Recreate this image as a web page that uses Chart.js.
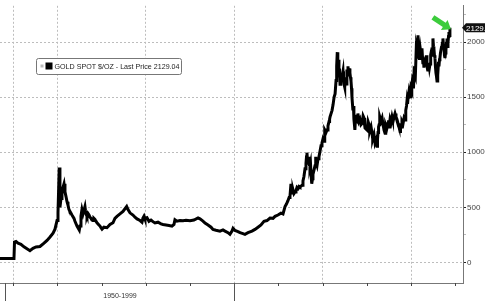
<!DOCTYPE html>
<html>
<head>
<meta charset="utf-8">
<script src="https://cdn.jsdelivr.net/npm/chart.js@4.4.1/dist/chart.umd.min.js"></script>
<style>
  html, body { margin: 0; padding: 0; background: #fff; }
  #wrap { width: 485px; height: 301px; }
</style>
</head>
<body>
<div id="wrap"><canvas id="myChart" width="485" height="301"></canvas></div>
<script>
// GOLD SPOT $/OZ (x = year, y = price)
// each line of years matches the same line of prices
const years = [
  1973.5, 1975.08, 1975.14, 1975.31, 1975.54, 1975.87, 1976.21, 1976.55, 1976.89, 1977.23,
  1977.57, 1978.02, 1978.48, 1978.82, 1979.16, 1979.5, 1979.72, 1979.95, 1980.06, 1980.2,
  1980.28, 1980.4, 1980.51, 1980.62, 1980.74, 1980.85, 1980.96, 1981.08, 1981.19, 1981.3,
  1981.42, 1981.64, 1981.87, 1981.98, 1982.21, 1982.47, 1982.55, 1982.66, 1982.77, 1982.89,
  1983.11, 1983.17, 1983.23, 1983.34, 1983.45, 1983.57, 1983.68, 1983.79, 1983.9, 1984.02, 1984.13, 1984.24, 1984.35, 1984.47, 1984.64, 1984.81, 1984.92, 1985.04,
  1985.26, 1985.6, 1985.94, 1986.28, 1986.5, 1986.73, 1987.07, 1987.41, 1987.83, 1987.98,
  1988.2, 1988.54, 1988.77, 1989.0, 1989.34, 1989.56, 1989.67, 1989.79, 1989.9, 1990.13,
  1990.35, 1990.58, 1990.8, 1991.03, 1991.37, 1991.71, 1991.94, 1992.28, 1992.62, 1992.95,
  1993.18, 1993.29, 1993.52, 1993.86, 1994.2, 1994.54, 1994.99, 1995.44, 1995.9, 1996.12,
  1996.46, 1996.69, 1997.03, 1997.37, 1997.59, 1997.93, 1998.38, 1998.72, 1998.95, 1999.29,
  1999.51, 1999.74, 1999.86, 2000.08, 2000.42, 2000.65, 2000.98, 2001.21, 2001.55, 2002.0,
  2002.34, 2002.68, 2003.02, 2003.36, 2003.7, 2004.04, 2004.38, 2004.61, 2004.94, 2005.28,
  2005.51, 2005.74, 2005.9, 2006.07, 2006.2, 2006.3, 2006.41, 2006.47, 2006.53, 2006.64, 2006.75, 2006.87, 2006.98, 2007.09, 2007.2, 2007.32, 2007.43,
  2007.66, 2007.77, 2007.88, 2008.0, 2008.11, 2008.17, 2008.22, 2008.28, 2008.34, 2008.4, 2008.45, 2008.51, 2008.56, 2008.62, 2008.68, 2008.73, 2008.79, 2008.85, 2008.9,
  2009.13, 2009.18, 2009.24, 2009.36, 2009.47, 2009.58, 2009.7, 2009.81, 2009.92, 2010.03, 2010.15, 2010.2, 2010.26, 2010.38, 2010.49, 2010.6, 2010.72, 2010.78, 2010.83,
  2011.06, 2011.17, 2011.29, 2011.4, 2011.51, 2011.58, 2011.65, 2011.69, 2011.73, 2011.78, 2011.84, 2011.9, 2011.96, 2012.01, 2012.07, 2012.12, 2012.18,
  2012.3, 2012.35, 2012.41, 2012.46, 2012.52, 2012.57, 2012.63, 2012.69, 2012.74, 2012.8, 2012.86, 2012.92, 2012.97, 2013.03, 2013.08, 2013.14, 2013.2, 2013.26, 2013.31,
  2013.42, 2013.48, 2013.53, 2013.59, 2013.64, 2013.7, 2013.76, 2013.82, 2013.87, 2013.93, 2013.98, 2014.1, 2014.21, 2014.33, 2014.46, 2014.57, 2014.68, 2014.74, 2014.79,
  2015.02, 2015.13, 2015.25, 2015.3, 2015.35, 2015.47, 2015.58, 2015.63, 2015.69, 2015.8, 2015.92, 2016.03, 2016.15, 2016.2, 2016.26, 2016.32, 2016.38, 2016.43, 2016.48,
  2016.6, 2016.72, 2016.83, 2016.94, 2017.05, 2017.1, 2017.16, 2017.27, 2017.39, 2017.45, 2017.5, 2017.56, 2017.62, 2017.73, 2017.84, 2017.9, 2017.96, 2018.07, 2018.18,
  2018.29, 2018.4, 2018.52, 2018.63, 2018.75, 2018.8, 2018.86, 2018.97, 2019.09, 2019.2, 2019.31, 2019.37, 2019.42, 2019.48, 2019.54, 2019.6, 2019.66, 2019.72, 2019.77,
  2019.88, 2019.94, 2019.99, 2020.05, 2020.1, 2020.16, 2020.22, 2020.27, 2020.33, 2020.39, 2020.44, 2020.5, 2020.56, 2020.61, 2020.66, 2020.72, 2020.78, 2020.83, 2020.89, 2020.94,
  2021.0, 2021.05, 2021.1, 2021.17, 2021.23, 2021.28, 2021.34, 2021.4, 2021.45, 2021.51, 2021.57, 2021.62, 2021.68, 2021.73, 2021.79, 2021.84, 2021.9, 2021.96, 2022.02, 2022.08,
  2022.14, 2022.19, 2022.24, 2022.3, 2022.36, 2022.41, 2022.47, 2022.53, 2022.58, 2022.64, 2022.7, 2022.75, 2022.81, 2022.87, 2022.93, 2022.98, 2023.04, 2023.1, 2023.15, 2023.21,
  2023.26, 2023.32, 2023.37, 2023.43, 2023.49, 2023.54, 2023.6, 2023.66, 2023.72, 2023.77, 2023.83, 2023.89, 2023.94, 2024.0, 2024.06, 2024.12, 2024.17, 2024.23, 2024.28, 2024.33,
  2024.39
];
const prices = [
  35, 35, 185, 190, 175, 165, 142, 125, 107, 128,
  140, 145, 175, 200, 231, 265, 302, 380, 450, 862,
  500, 580, 620, 680, 714, 640, 600, 551, 520, 480,
  462, 430, 400, 373, 330, 293, 330, 420, 480, 440,
  507, 470, 440, 418, 445, 430, 410, 400, 385, 380, 400, 391, 375, 360, 345, 330, 315, 302,
  320, 315, 344, 360, 400, 418, 440, 462, 507, 480,
  450, 430, 410, 395, 380, 365, 403, 420, 395, 405,
  373, 385, 370, 358, 365, 350, 344, 340, 335, 329,
  345, 388, 375, 380, 378, 382, 379, 385, 403, 395,
  375, 358, 340, 320, 299, 292, 284, 295, 284, 270,
  255, 285, 310, 290, 280, 270, 262, 255, 270, 284,
  300, 320, 340, 373, 380, 403, 400, 418, 430, 447,
  440, 507, 530, 560, 590, 600, 714, 640, 630, 660, 625, 640, 650, 680, 670, 690, 684,
  700, 740, 780, 850, 900, 960, 996, 920, 900, 960, 930, 880, 877, 900, 800, 760, 714, 760, 800,
  877, 960, 920, 880, 940, 960, 1010, 1060, 1084, 1120, 1100, 1160, 1203, 1180, 1202, 1240, 1280, 1300, 1321,
  1380, 1430, 1500, 1529, 1650, 1780, 1908, 1800, 1750, 1840, 1680, 1760, 1618, 1700, 1720, 1650, 1680,
  1736, 1660, 1620, 1660, 1591, 1640, 1680, 1620, 1750, 1700, 1780, 1720, 1700, 1760, 1720, 1680, 1647, 1580, 1500,
  1380, 1420, 1300, 1250, 1202, 1290, 1340, 1280, 1260, 1320, 1351, 1280, 1300, 1250, 1262, 1330, 1310, 1250, 1220,
  1202, 1280, 1250, 1210, 1190, 1230, 1173, 1150, 1120, 1160, 1084, 1110, 1055, 1120, 1180, 1230, 1250, 1290, 1321,
  1280, 1310, 1250, 1200, 1173, 1210, 1250, 1220, 1262, 1290, 1230, 1260, 1300, 1270, 1321, 1300, 1280, 1320, 1351,
  1320, 1300, 1262, 1230, 1188, 1210, 1230, 1280, 1260, 1310, 1292, 1330, 1380, 1420, 1470, 1440, 1500, 1530, 1558,
  1520, 1490, 1580, 1560, 1600, 1660, 1647, 1580, 1720, 1700, 1780, 1740, 1884, 1850, 1960, 1930, 2062, 1900, 1960, 1850,
  1884, 1930, 1900, 1850, 1944, 1870, 1800, 1860, 1767, 1820, 1860, 1790, 1825, 1880, 1800, 1760, 1736, 1790, 1810, 1770,
  1800, 1850, 1884, 1920, 1950, 1880, 2033, 1960, 1940, 1880, 1855, 1780, 1720, 1690, 1647, 1760, 1700, 1820, 1780, 1840,
  1855, 1900, 1900, 1950, 1960, 1990, 2033, 1970, 1950, 1880, 1855, 1900, 1930, 1990, 2033, 1960, 1990, 2050, 2092, 2060,
  2129.04
];

const seriesName = 'GOLD SPOT $/OZ';
const lastPrice = 2129.04;
const yTicks = [0, 250, 500, 750, 1000, 1250, 1500, 1750, 2000, 2250];
const gridYears = [1975, 1980, 1990, 2000, 2010, 2020];
const tickYears = [1975, 1980, 1985, 1990, 1995, 2000, 2005, 2010, 2015, 2020, 2025];
const periodBounds = [1974.07, 2000];
const periodLabel = '1950-1999';

const FONT = 'Liberation Sans, Arial, sans-serif';

var points = [];
for (var i = 0; i < years.length; i++) {
  points.push({ x: years[i], y: prices[i] });
}

// extra drawing: x tick marks, period label, legend box, last price tag, green arrow
var extras = {
  id: 'extras',
  afterDraw: function (chart) {
    var ctx = chart.ctx;
    var xs = chart.scales.x;
    var ys = chart.scales.y;
    var area = chart.chartArea;
    ctx.save();

    // short ticks under the x axis
    ctx.strokeStyle = '#444';
    ctx.lineWidth = 1;
    tickYears.forEach(function (yr) {
      var px = Math.round(xs.getPixelForValue(yr)) + 0.5;
      ctx.beginPath();
      ctx.moveTo(px, area.bottom);
      ctx.lineTo(px, area.bottom + 3);
      ctx.stroke();
    });
    // period separators
    var sep = periodBounds.map(function (yr) { return Math.round(xs.getPixelForValue(yr)) + 0.5; });
    ctx.strokeStyle = '#555';
    sep.forEach(function (px) {
      ctx.beginPath();
      ctx.moveTo(px, area.bottom);
      ctx.lineTo(px, chart.height);
      ctx.stroke();
    });
    ctx.fillStyle = '#333';
    ctx.font = '7px ' + FONT;
    ctx.textAlign = 'center';
    ctx.textBaseline = 'middle';
    ctx.fillText(periodLabel, (sep[0] + sep[1]) / 2, area.bottom + 13);

    // legend box
    var lx = 36.5, ly = 58.5, lw = 145, lh = 16;
    ctx.fillStyle = '#fff';
    ctx.strokeStyle = '#777';
    ctx.beginPath();
    ctx.roundRect(lx, ly, lw, lh, 2);
    ctx.fill();
    ctx.stroke();
    ctx.fillStyle = '#bbb';
    ctx.fillRect(lx + 4, ly + 6, 3, 3);
    ctx.fillStyle = '#000';
    ctx.fillRect(lx + 9, ly + 4, 7, 7);
    ctx.fillStyle = '#222';
    ctx.textAlign = 'left';
    ctx.font = '7.5px ' + FONT;
    ctx.fillText(seriesName + ' - Last Price ' + lastPrice.toFixed(2), lx + 18, ly + lh / 2 + 0.5, 125);

    // last price tag on the right axis
    var ty = ys.getPixelForValue(lastPrice);
    var tx = area.right - 1;
    ctx.fillStyle = '#111';
    ctx.beginPath();
    ctx.moveTo(tx, ty);
    ctx.lineTo(tx + 4, ty - 4.5);
    ctx.lineTo(chart.width, ty - 4.5);
    ctx.lineTo(chart.width, ty + 4.5);
    ctx.lineTo(tx + 4, ty + 4.5);
    ctx.closePath();
    ctx.fill();
    ctx.fillStyle = '#fff';
    ctx.font = '8px ' + FONT;
    ctx.fillText(lastPrice.toFixed(2), tx + 4, ty + 0.5);

    // green arrow pointing at the last point
    var ex = xs.getPixelForValue(years[years.length - 1]) + 1;
    var ey = ys.getPixelForValue(prices[prices.length - 1]) + 1.5;
    var sx = ex - 18, sy = ey - 12;
    var dx = ex - sx, dy = ey - sy;
    var len = Math.sqrt(dx * dx + dy * dy);
    var ux = dx / len, uy = dy / len;
    var nx = -uy, ny = ux;
    var hl = 8, hw = 6, sw = 2.6;
    var bx = ex - ux * hl, by = ey - uy * hl;
    ctx.fillStyle = '#3ccc3c';
    ctx.beginPath();
    ctx.moveTo(sx + nx * sw, sy + ny * sw);
    ctx.lineTo(bx + nx * sw, by + ny * sw);
    ctx.lineTo(bx + nx * hw, by + ny * hw);
    ctx.lineTo(ex, ey);
    ctx.lineTo(bx - nx * hw, by - ny * hw);
    ctx.lineTo(bx - nx * sw, by - ny * sw);
    ctx.lineTo(sx - nx * sw, sy - ny * sw);
    ctx.closePath();
    ctx.fill();

    ctx.restore();
  }
};

var ctx = document.getElementById('myChart').getContext('2d');
var chart = new Chart(ctx, {
  type: 'line',
  data: {
    datasets: [{
      label: seriesName,
      data: points,
      borderColor: '#000',
      borderWidth: 3,
      pointRadius: 0,
      tension: 0,
      fill: false
    }]
  },
  options: {
    responsive: false,
    animation: false,
    layout: { padding: 0 },
    plugins: {
      legend: { display: false },
      tooltip: { enabled: false }
    },
    scales: {
      x: {
        type: 'linear',
        position: 'bottom',
        min: 1973.5,
        max: 2025.87,
        afterBuildTicks: function (scale) {
          scale.ticks = gridYears.map(function (v) { return { value: v }; });
        },
        afterFit: function (scale) { scale.height = 18; },
        grid: { color: '#bdbdbd', lineWidth: 1, drawTicks: false },
        border: { display: true, color: '#777', dash: [2, 2] },
        ticks: { display: false }
      },
      y: {
        type: 'linear',
        position: 'right',
        min: -186.7,
        max: 2329,
        afterBuildTicks: function (scale) {
          scale.ticks = yTicks.map(function (v) { return { value: v }; });
        },
        afterFit: function (scale) { scale.width = 22; },
        grid: {
          color: function (c) { return c.tick && c.tick.value % 500 === 0 ? '#bdbdbd' : 'rgba(0,0,0,0)'; },
          tickColor: function (c) { return c.tick && c.tick.value % 500 === 0 ? '#222' : '#bbb'; },
          tickLength: 3,
          lineWidth: 1
        },
        border: { display: true, color: '#777', dash: [2, 2] },
        ticks: {
          padding: 1,
          color: '#444',
          font: { family: FONT, size: 8 },
          callback: function (v) { return v % 500 === 0 ? String(v) : ''; }
        }
      }
    }
  },
  plugins: [extras]
});
</script>
</body>
</html>
